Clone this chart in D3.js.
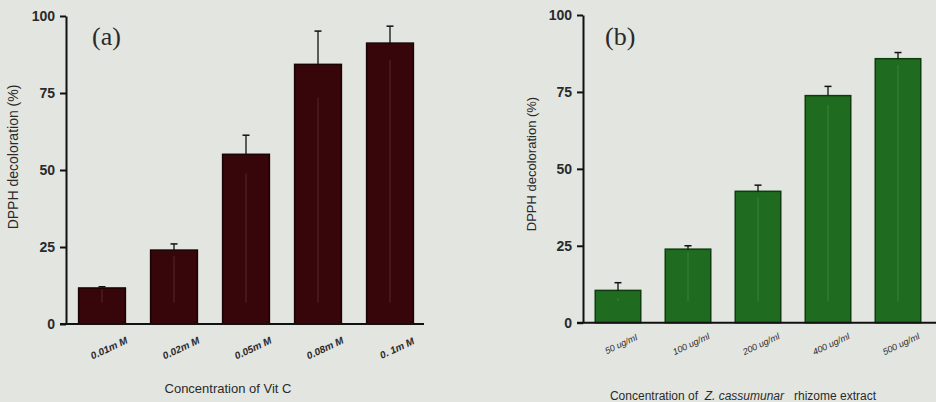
<!DOCTYPE html>
<html>
<head>
<meta charset="utf-8">
<script src="https://cdn.jsdelivr.net/npm/d3@7"></script>
<style>
  html, body { margin: 0; padding: 0; background: #e3e5e0; }
  svg { display: block; }
  text { font-family: 'Liberation Sans', Arial, sans-serif; fill: #2a2a2a; }
</style>
</head>
<body>
<div id="chart"></div>
<script>
// values
let yTicks = [0, 25, 50, 75, 100]

let catsA = ['0.01m M', '0.02m M', '0.05m M', '0.08m M', '0. 1m M']
let valsA = [11.7, 24.0, 55.1, 84.3, 91.2]
let errA = [0.4, 2.0, 6.2, 10.8, 5.5]

let catsB = ['50 ug/ml', '100 ug/ml', '200 ug/ml', '400 ug/ml', '500 ug/ml']
let valsB = [10.5, 23.9, 42.7, 73.8, 85.8]
let errB = [2.5, 1.1, 2.0, 3.0, 2.0]

let width = 936
let height = 402

let svg = d3.select('#chart')
  .append('svg')
  .attr('width', width)
  .attr('height', height)

svg.append('rect')
  .attr('width', width)
  .attr('height', height)
  .attr('fill', '#e3e5e0')

let panels = [
  {
    cats: catsA, vals: valsA, errs: errA,
    x0: 66, x1: 426, axisEnd: 424, yTop: 16, yBottom: 324,
    fill: '#36060a', stroke: '#1a0304', inner: '#7a3a3c',
    tag: '(a)', tagX: 92, ylabX: 13, ylabY: 157, ylabSize: 14,
    tickDx: 7, tickY: 348, tickSize: 10, tickWeight: 'bold',
    title: [{ t: 'Concentration of Vit C', italic: false }],
    titleX: 228, titleY: 388, titleSize: 13
  },
  {
    cats: catsB, vals: valsB, errs: errB,
    x0: 583, x1: 933, axisEnd: 936, yTop: 15, yBottom: 322.7,
    fill: '#1f6b1f', stroke: '#0e3c0e', inner: '#4f9a4a',
    tag: '(b)', tagX: 605, ylabX: 531, ylabY: 164, ylabSize: 13,
    tickDx: 3, tickY: 344, tickSize: 9, tickWeight: 'normal',
    title: [
      { t: 'Concentration of\u00a0\u00a0', italic: false },
      { t: 'Z. cassumunar', italic: true },
      { t: '\u00a0\u00a0 rhizome extract', italic: false }
    ],
    titleX: 743, titleY: 396, titleSize: 12
  }
]

panels.forEach(p => {
  let g = svg.append('g')

  let x = d3.scaleBand()
    .domain(p.cats)
    .range([p.x0, p.x1])
    .paddingInner(0.35)
    .paddingOuter(0.175)

  let y = d3.scaleLinear()
    .domain([0, 100])
    .range([p.yBottom, p.yTop])

  // bars
  g.selectAll('.bar')
    .data(p.vals)
    .enter()
    .append('rect')
    .attr('class', 'bar')
    .attr('x', (d, i) => x(p.cats[i]))
    .attr('y', d => y(d))
    .attr('width', x.bandwidth())
    .attr('height', d => y(0) - y(d))
    .attr('fill', p.fill)
    .attr('stroke', p.stroke)
    .attr('stroke-width', 1.5)

  // faint lower whisker showing through the bar
  g.selectAll('.inner')
    .data(p.vals)
    .enter()
    .append('line')
    .attr('x1', (d, i) => x(p.cats[i]) + x.bandwidth() / 2)
    .attr('x2', (d, i) => x(p.cats[i]) + x.bandwidth() / 2)
    .attr('y1', (d, i) => y(d - p.errs[i]))
    .attr('y2', y(7))
    .attr('stroke', p.inner)
    .attr('stroke-width', 1)
    .attr('opacity', 0.6)

  // error bars (upper only)
  let eb = g.selectAll('.err')
    .data(p.vals)
    .enter()
    .append('g')
    .attr('transform', (d, i) => `translate(${x(p.cats[i]) + x.bandwidth() / 2},0)`)

  eb.append('line')
    .attr('y1', d => y(d))
    .attr('y2', (d, i) => y(d + p.errs[i]))
    .attr('stroke', '#111')
    .attr('stroke-width', 1.3)

  eb.append('line')
    .attr('x1', -3.5)
    .attr('x2', 3.5)
    .attr('y1', (d, i) => y(d + p.errs[i]))
    .attr('y2', (d, i) => y(d + p.errs[i]))
    .attr('stroke', '#111')
    .attr('stroke-width', 1.5)

  // y axis
  let yAxis = g.append('g')
    .attr('transform', `translate(${p.x0},0)`)
    .call(d3.axisLeft(y).tickValues(yTicks).tickSize(6).tickPadding(5).tickSizeOuter(0))

  yAxis.select('.domain').attr('stroke', '#111').attr('stroke-width', 2)
  yAxis.selectAll('.tick line').attr('stroke', '#111').attr('stroke-width', 2)
  yAxis.selectAll('.tick text')
    .attr('font-size', 14)
    .attr('font-weight', 'bold')
    .attr('fill', '#2a2a2a')
    .attr('font-family', "'Liberation Sans', Arial, sans-serif")

  // x axis line
  g.append('line')
    .attr('x1', p.x0 - 6)
    .attr('x2', p.axisEnd)
    .attr('y1', y(0))
    .attr('y2', y(0))
    .attr('stroke', '#111')
    .attr('stroke-width', 2)

  // category labels
  g.selectAll('.cat')
    .data(p.cats)
    .enter()
    .append('text')
    .attr('transform', d => `translate(${x(d) + x.bandwidth() / 2 + p.tickDx},${p.tickY}) rotate(-25)`)
    .attr('text-anchor', 'middle')
    .attr('dy', '0.35em')
    .attr('font-size', p.tickSize)
    .attr('font-weight', p.tickWeight)
    .attr('font-style', 'italic')
    .text(d => d)

  // panel tag
  g.append('text')
    .attr('x', p.tagX)
    .attr('y', 45)
    .attr('font-size', 26)
    .style('font-family', "'Liberation Serif', 'Times New Roman', serif")
    .text(p.tag)

  // y label
  g.append('text')
    .attr('transform', `translate(${p.ylabX},${p.ylabY}) rotate(-90)`)
    .attr('text-anchor', 'middle')
    .attr('dy', '0.35em')
    .attr('font-size', p.ylabSize)
    .text('DPPH decoloration (%)')

  // x title
  let t = g.append('text')
    .attr('x', p.titleX)
    .attr('y', p.titleY)
    .attr('text-anchor', 'middle')
    .attr('dy', '0.35em')
    .attr('font-size', p.titleSize)

  p.title.forEach(s => {
    t.append('tspan')
      .attr('font-style', s.italic ? 'italic' : 'normal')
      .text(s.t)
  })
})
</script>
</body>
</html>
